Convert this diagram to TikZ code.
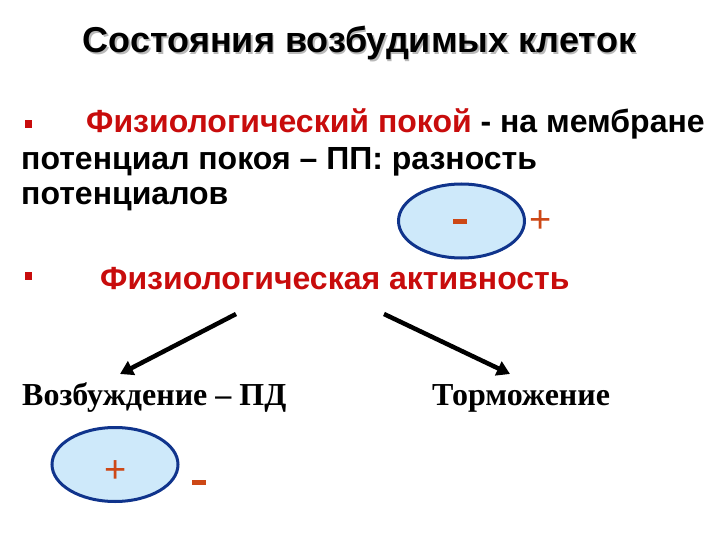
\documentclass[tikz,border=0pt]{standalone}
\usepackage{fontspec}
\setmainfont{Liberation Sans}
\newfontfamily\timesfont{Liberation Serif}
\usetikzlibrary{arrows.meta}
\usetikzlibrary{shapes.geometric}
\definecolor{darkred}{RGB}{200,12,12}
\definecolor{membrane}{RGB}{16,52,140}
\definecolor{cellfill}{RGB}{206,233,250}
\definecolor{charge}{RGB}{205,72,22}
\newcommand{\shadowtext}[1]{\rlap{\kern1.6pt\raisebox{-1.6pt}{\textcolor{gray!55}{#1}}}#1}

\begin{document}
\begin{tikzpicture}[x=1pt,y=-1pt,
  textline/.style={anchor=base west, inner sep=0pt, font=\bfseries\fontsize{32}{32}\selectfont},
  timesline/.style={anchor=base west, inner sep=0pt, font=\timesfont\bfseries\fontsize{32}{32}\selectfont},
  bulletbox/.style={fill=darkred, inner sep=0pt, minimum size=7.5pt},
  cell/.style={ellipse, draw=membrane, fill=cellfill, line width=3pt, minimum width=126pt, minimum height=74pt},
  plussign/.style={text=charge, inner sep=0pt, font=\fontsize{38}{38}\selectfont},
  minussign/.style={fill=charge, inner sep=0pt, minimum width=14pt, minimum height=5pt}]
\tikzset{branch/.style = {-{Triangle[width=15pt, length=13pt]}, line width=4.5pt}}
\useasboundingbox (0,0) rectangle (720,540);
\node[anchor=base, inner sep=0pt, font=\bfseries\fontsize{36}{36}\selectfont] (title) at (359.5,53) {\shadowtext{Состояния возбудимых клеток}};
\node[bulletbox] (b1) at (28.5,124) {};
\node[textline] (rest) at (86,133) {\textcolor{darkred}{Физиологический покой} - на мембране};
\node[textline] (pp) at (21,170) {потенциал покоя – ПП: разность};
\node[textline] (pot) at (21,205) {потенциалов};
\node[cell] (cellA) at (461.5,221) {};
\node[minussign] (minusA) at (460,222) {};
\node[plussign] (plusA) at (541,222) {+};
\node[bulletbox] (b2) at (28.5,276) {};
\node[textline, text=darkred] (act) at (100,289) {Физиологическая активность};
\node[timesline] (exc) at (22,405) {Возбуждение – ПД};
\node[timesline] (inh) at (432,405) {Торможение};
\node[cell] (cellB) at (115,464.5) {};
\node[plussign] (plusB) at (116,472) {+};
\node[minussign] (minusB) at (198.5,482.5) {};
\coordinate (fromL) at (236,314);
\coordinate (toL) at (120,374);
\coordinate (fromR) at (384,314);
\coordinate (toR) at (510,374);
\draw[branch] (fromL) -- (toL);
\draw[branch] (fromR) -- (toR);
\end{tikzpicture}
\end{document}
